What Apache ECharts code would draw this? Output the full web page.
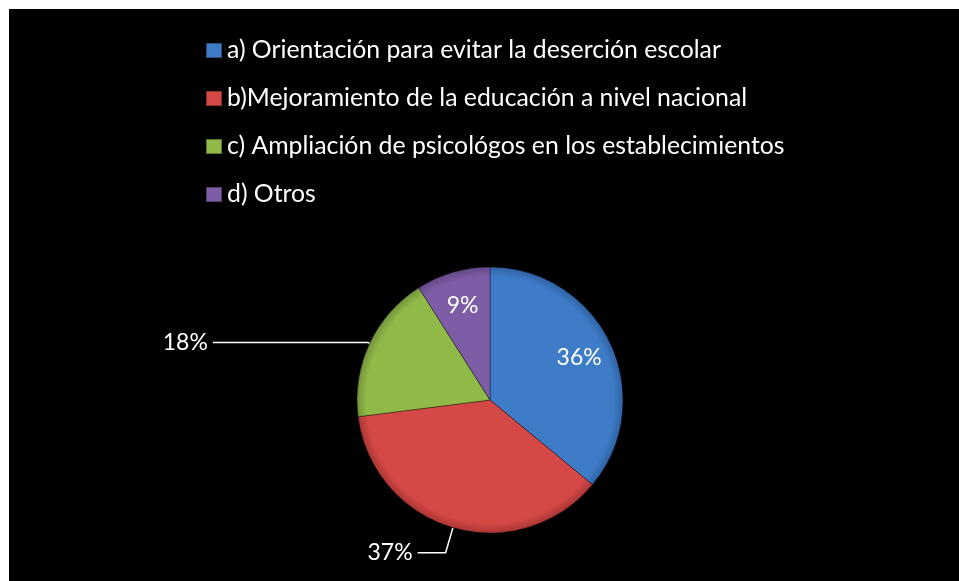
<!DOCTYPE html>
<html>
<head>
<meta charset="utf-8">
<script src="https://cdn.jsdelivr.net/npm/echarts@6/dist/echarts.min.js"></script>
<style>
  html, body { margin: 0; padding: 0; background: #ffffff; }
  #frame { position: absolute; left: 9px; top: 9px; width: 950px; height: 572px; background: #000000; }
  #chart { width: 950px; height: 572px; }
</style>
</head>
<body>
<div id="frame"><div id="chart"></div></div>
<script>
const categories = [
  "a) Orientación para evitar la deserción escolar",
  "b)Mejoramiento de la educación a nivel nacional",
  "c) Ampliación de psicológos en los establecimientos",
  "d) Otros"
];
const values = [36, 37, 18, 9];
const colors = ["#3E7CC8", "#D44846", "#90B948", "#7E5DA7"];
const rimColors = ["#2F62A3", "#A93634", "#72933A", "#634886"];
const insideLabel = [true, false, false, true];

const FONT = "Lato";
const CX = 481, CY = 391, R = 133;
const chart = echarts.init(document.getElementById('chart'), null, { renderer: 'canvas' });

function sliceColor(i) {
  return {
    type: 'radial', x: CX, y: CY, r: R, global: true,
    colorStops: [
      { offset: 0, color: colors[i] },
      { offset: 0.93, color: colors[i] },
      { offset: 1, color: rimColors[i] }
    ]
  };
}

const mainData = categories.map((c, i) => ({
  name: c,
  value: values[i],
  itemStyle: { color: sliceColor(i) },
  label: { show: !insideLabel[i] },
  labelLine: insideLabel[i] ? { show: false } : (i === 2 ? { show: true, length: 2, length2: 155 } : { show: true })
}));
const labelData = categories.map((c, i) => ({
  name: c,
  value: values[i],
  label: { show: insideLabel[i] }
}));

chart.setOption({
  backgroundColor: '#000000',
  animation: false,
  color: colors,
  legend: {
    orient: 'vertical',
    left: 191,
    top: 24,
    itemWidth: 16,
    itemHeight: 15,
    itemGap: 23,
    icon: 'rect',
    textStyle: { color: '#ffffff', fontFamily: FONT, fontSize: 24.8, lineHeight: 24 },
    data: categories.map((c, i) => ({ name: c, itemStyle: { color: colors[i] } }))
  },
  series: [
    {
      type: 'pie',
      center: [CX, CY],
      radius: R,
      startAngle: 90,
      clockwise: true,
      avoidLabelOverlap: false,
      percentPrecision: 0,
      itemStyle: { borderColor: 'rgba(0,0,0,0.35)', borderWidth: 1 },
      label: {
        position: 'outside',
        formatter: '{d}%',
        color: '#ffffff',
        fontFamily: FONT,
        fontSize: 23,
        distanceToLabelLine: 5
      },
      labelLine: {
        length: 26,
        length2: 28,
        lineStyle: { color: '#ffffff', width: 1.5 }
      },
      data: mainData
    },
    {
      type: 'pie',
      center: [CX, CY],
      radius: [58, R],
      startAngle: 90,
      clockwise: true,
      silent: true,
      avoidLabelOverlap: false,
      percentPrecision: 0,
      itemStyle: { color: 'rgba(0,0,0,0)' },
      label: {
        position: 'inside',
        formatter: '{d}%',
        color: '#ffffff',
        fontFamily: FONT,
        fontSize: 23
      },
      labelLine: { show: false },
      data: labelData
    }
  ]
});
</script>
</body>
</html>
